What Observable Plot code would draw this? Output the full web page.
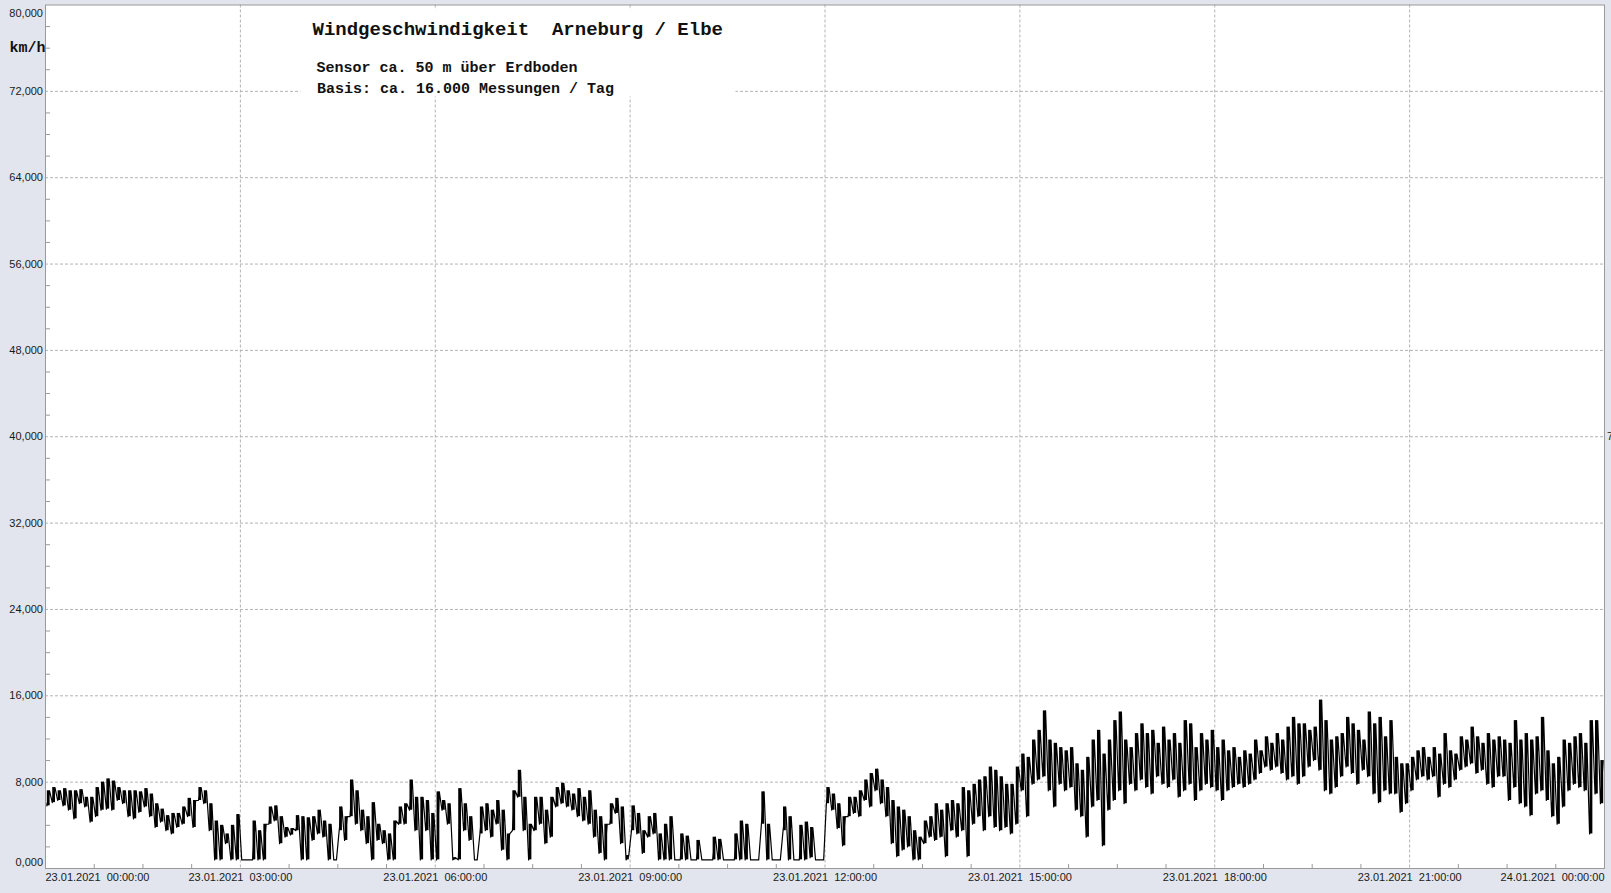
<!DOCTYPE html>
<html><head><meta charset="utf-8">
<script src="https://cdn.jsdelivr.net/npm/d3@7"></script>
<script src="https://cdn.jsdelivr.net/npm/@observablehq/plot@0.6"></script>
<style>
html,body{margin:0;padding:0;background:#e2e5ed;overflow:hidden}
#chart svg{display:block}
</style></head><body><div id="chart"></div>
<script>
// ---- texts ----
const titleText = "Windgeschwindigkeit\u00a0\u00a0Arneburg / Elbe";
const subtitleLine1 = "Sensor ca. 50 m über Erdboden";
const subtitleLine2 = "Basis: ca. 16.000 Messungen / Tag";
const unitLabel = "km/h";
const rightEdgeLabel = "7";

// ---- axes ----
const xTickHours = [0, 3, 6, 9, 12, 15, 18, 21, 24];
const xTickLabels = [
  "23.01.2021\u00a0\u00a000:00:00", "23.01.2021\u00a0\u00a003:00:00", "23.01.2021\u00a0\u00a006:00:00",
  "23.01.2021\u00a0\u00a009:00:00", "23.01.2021\u00a0\u00a012:00:00", "23.01.2021\u00a0\u00a015:00:00",
  "23.01.2021\u00a0\u00a018:00:00", "23.01.2021\u00a0\u00a021:00:00", "24.01.2021\u00a0\u00a000:00:00"
];
const yTickValues = [0, 8, 16, 24, 32, 40, 48, 56, 64, 72, 80];
const yMinorTicks = d3.range(2, 80, 2).filter(v => v % 8 !== 0);
const xMinorHours = d3.range(0.75, 24, 0.75).filter(h => h % 3 !== 0);

// ---- data: wind speed (km/h), 5-minute bins, min / max per bin, 23.01.2021 ----
const binMinutes = 5;
const windLo = [
  5.8,6.1,6.3,5.8,5.4,4.6,6.0,5.7,4.3,4.8,5.4,5.5,      // 00h
  5.4,6.3,6.0,4.8,4.6,5.2,5.7,4.8,3.8,4.3,3.5,3.2,      // 01h
  3.8,4.1,4.8,3.8,6.3,6.0,3.5,0.8,0.8,2.3,0.8,0.8,      // 02h
  0.8,0.8,0.8,0.8,0.8,4.1,4.4,2.3,2.9,3.1,3.5,0.8,      // 03h
  0.8,2.6,3.2,2.9,0.8,0.8,3.5,2.6,4.8,4.1,3.5,2.3,      // 04h
  0.8,2.6,2.3,0.8,0.8,4.1,4.1,5.4,3.5,0.8,3.5,0.8,      // 05h
  0.8,5.4,4.1,0.8,0.8,3.5,2.6,0.8,3.2,3.5,2.9,4.1,      // 06h
  1.7,0.8,3.5,6.6,3.5,0.8,3.5,4.1,2.3,2.9,5.7,6.0,      // 07h
  5.7,5.4,4.8,4.4,4.1,2.9,1.4,0.8,4.1,5.1,2.3,0.8,      // 08h
  3.5,3.2,1.4,2.9,3.2,0.8,0.8,0.8,0.8,0.8,0.8,0.8,      // 09h
  0.8,0.8,0.8,0.8,0.8,0.8,0.8,0.8,0.8,0.8,0.8,0.8,      // 10h
  4.1,0.8,0.8,0.8,3.5,0.8,0.8,0.8,0.8,1.0,0.8,0.8,      // 11h
  6.0,5.4,3.7,2.1,4.8,5.1,4.8,6.3,5.7,7.2,6.0,4.8,      // 12h
  2.3,1.1,1.7,2.0,0.8,0.8,2.3,2.9,2.6,2.9,1.1,3.5,      // 13h
  2.9,3.5,1.1,4.1,4.8,3.5,4.8,3.8,3.5,3.8,3.2,4.1,      // 14h
  7.2,4.8,7.8,8.2,8.5,7.2,5.7,7.8,7.2,7.5,5.4,4.8,      // 15h
  2.9,5.7,6.3,2.1,5.4,6.3,7.2,6.0,7.8,7.2,8.2,7.5,      // 16h
  6.9,8.5,7.8,7.5,8.2,6.6,7.2,7.8,6.3,7.2,7.8,7.5,      // 17h
  7.2,6.3,7.2,7.5,7.8,7.5,7.8,8.2,8.8,9.4,9.1,9.4,      // 18h
  8.8,8.2,8.5,7.8,8.5,9.4,10.0,9.1,7.2,6.9,7.5,8.5,     // 19h
  9.4,8.8,7.8,9.1,8.5,6.9,6.1,7.2,6.9,6.9,5.2,6.0,      // 20h
  7.2,8.2,8.5,8.2,8.5,6.6,7.8,7.5,8.2,9.1,9.4,9.7,      // 21h
  8.8,9.1,7.8,7.5,8.5,8.5,6.3,7.5,6.0,5.7,4.9,6.9,      // 22h
  7.2,6.3,4.8,4.1,5.7,7.2,7.8,7.5,7.2,3.2,6.9,6.0       // 23h
];
const windHi = [
  7.2,7.5,7.2,7.4,7.2,7.2,7.3,6.6,6.6,7.5,8.0,8.3,      // 00h
  8.1,7.5,7.2,7.2,7.2,7.1,7.4,6.9,6.0,5.5,4.9,5.1,      // 01h
  5.1,5.7,6.5,6.3,7.5,7.2,6.0,4.4,4.0,3.2,4.0,5.0,      // 02h
  0.8,0.8,4.4,3.5,4.1,5.7,5.8,4.8,3.8,3.7,4.9,4.8,      // 03h
  4.7,4.8,5.4,4.4,4.1,0.8,5.7,4.8,8.2,7.2,5.4,4.8,      // 04h
  6.1,4.1,3.5,3.2,4.4,5.7,6.0,8.2,6.6,6.6,6.3,5.1,      // 05h
  7.1,6.3,6.0,1.0,7.4,6.0,4.8,0.8,5.7,6.0,5.4,6.3,      // 06h
  5.4,3.2,7.2,9.1,6.6,4.1,6.6,6.6,5.4,6.6,7.5,7.9,      // 07h
  7.2,6.9,7.4,6.6,7.2,5.4,4.8,4.1,6.0,6.5,5.7,1.2,      // 08h
  5.8,5.1,3.5,4.8,5.1,3.2,4.1,4.8,0.8,3.2,3.0,0.8,      // 09h
  2.6,0.8,0.8,2.9,2.7,0.8,0.8,3.2,4.4,4.1,0.8,0.8,      // 10h
  7.1,4.1,0.8,0.8,5.7,4.8,0.8,4.0,4.3,3.8,0.8,0.8,      // 11h
  7.5,6.9,6.0,4.8,6.6,6.6,7.2,8.2,8.8,9.2,8.2,7.5,      // 12h
  6.3,5.7,5.4,4.8,3.5,2.9,4.4,4.8,6.0,5.4,6.0,6.3,      // 13h
  6.0,7.5,7.2,7.8,8.2,8.5,9.4,9.1,8.5,7.8,7.8,9.4,      // 14h
  10.6,10.3,11.9,12.8,14.6,11.9,11.6,11.2,10.9,11.2,9.7,9.1,   // 15h
  10.3,11.9,12.8,10.6,11.9,13.7,14.5,11.9,11.2,12.5,13.4,12.5, // 16h
  12.8,11.6,13.1,11.9,12.5,11.6,13.7,13.4,11.2,12.5,11.9,12.8, // 17h
  11.2,11.9,10.9,11.2,10.3,10.9,10.6,11.9,10.9,12.2,11.6,12.5, // 18h
  11.9,13.1,14.0,13.4,13.4,12.8,13.1,15.6,13.7,11.9,12.2,12.5, // 19h
  14.0,13.4,12.8,11.9,14.5,13.4,14.0,12.2,13.7,10.3,9.7,9.7,   // 20h
  10.3,10.9,11.2,10.3,11.2,10.6,12.5,10.9,10.6,12.2,11.9,13.1, // 21h
  12.2,11.6,12.5,11.9,12.2,11.9,11.6,13.7,11.9,12.5,11.9,12.2, // 22h
  14.0,10.9,9.7,10.3,11.9,11.6,12.2,12.5,11.6,13.7,13.7,10.0   // 23h
];

// tables for the marks: one row per bin (min-max range), and min then max inside each bin for the trace
const windBins = windLo.map((lo, i) => ({h: (i + 0.5) * binMinutes / 60, lo, hi: windHi[i]}));
const windPoints = windLo.flatMap((lo, i) => [
  {h: (i + 0.25) * binMinutes / 60, v: lo},
  {h: (i + 0.75) * binMinutes / 60, v: windHi[i]}
]);
const xLabelRows = xTickHours.map((h, i) => ({h, label: xTickLabels[i]}));
const fmtY = v => v.toFixed(3).replace(".", ",");

const W = 1611, H = 893;
const mL = 45, mR = 7, mT = 4.5, mB = 25;
const frameW = W - mL - mR, frameH = H - mT - mB;
const gridStyle = {stroke: "#b3b3b3", strokeOpacity: 1, strokeWidth: 1, strokeDasharray: "3,2"};
const labelFont = {fontFamily: "Liberation Sans, Arial, sans-serif", fontSize: 11, fill: "#1a1a1a", lineAnchor: "middle"};
const monoFont = {fontFamily: "Liberation Mono, Courier New, monospace", fontWeight: "bold", fill: "#111", lineAnchor: "middle"};

const chart = Plot.plot({
  width: W, height: H,
  marginLeft: mL, marginRight: mR, marginTop: mT, marginBottom: mB,
  style: {background: "transparent", overflow: "visible"},
  x: {domain: [0, 24], axis: null},
  y: {domain: [0, 80], axis: null},
  marks: [
    Plot.frame({fill: "white", stroke: null}),
    Plot.gridY(yTickValues.filter(v => v > 0 && v < 80), gridStyle),
    Plot.gridX(xTickHours.filter(h => h > 0 && h < 24), gridStyle),
    // white box behind the heading
    Plot.frame({fill: "white", stroke: null, insetLeft: 255, insetRight: frameW - 690, insetTop: 4.5, insetBottom: frameH - 91.5}),
    // minor ticks (inside the frame)
    Plot.ruleY(yMinorTicks, {stroke: "#9a9a9a", insetRight: frameW - 5}),
    Plot.ruleX(xMinorHours, {stroke: "#9a9a9a", insetTop: frameH - 4}),
    // data: per-bin range plus trace
    Plot.ruleX(windBins, {x: "h", y1: "lo", y2: "hi", stroke: "#000", strokeWidth: 2.8}),
    Plot.line(windPoints, {x: "h", y: "v", stroke: "#000", strokeWidth: 1.2}),
    Plot.frame({stroke: "#9a9a9a"}),
    // y labels
    Plot.text(yTickValues.filter(v => v > 0 && v < 80), {y: d => d, text: fmtY, frameAnchor: "left", textAnchor: "end", dx: -2.5, ...labelFont}),
    Plot.text([80], {y: d => d, text: fmtY, frameAnchor: "left", textAnchor: "end", dx: -2.5, dy: 8.5, ...labelFont}),
    Plot.text([0], {y: d => d, text: fmtY, frameAnchor: "left", textAnchor: "end", dx: -2.5, dy: -6, ...labelFont}),
    // x labels
    Plot.text(xLabelRows.slice(1, -1), {x: "h", text: "label", frameAnchor: "bottom", dy: 9, ...labelFont}),
    Plot.text(xLabelRows.slice(0, 1), {x: "h", text: "label", frameAnchor: "bottom", dy: 9, textAnchor: "start", ...labelFont}),
    Plot.text(xLabelRows.slice(-1), {x: "h", text: "label", frameAnchor: "bottom", dy: 9, textAnchor: "end", ...labelFont}),
    // heading texts
    Plot.text([titleText], {text: d => d, frameAnchor: "top-left", textAnchor: "start", dx: 267, dy: 24.4, fontSize: 19, ...monoFont}),
    Plot.text([subtitleLine1], {text: d => d, frameAnchor: "top-left", textAnchor: "start", dx: 271, dy: 61.7, fontSize: 15, ...monoFont}),
    Plot.text([subtitleLine2], {text: d => d, frameAnchor: "top-left", textAnchor: "start", dx: 271.5, dy: 83.2, fontSize: 15, ...monoFont}),
    Plot.text([unitLabel], {text: d => d, frameAnchor: "top-left", textAnchor: "start", dx: -36, dy: 41.7, fontSize: 15, ...monoFont}),
    Plot.text([rightEdgeLabel], {text: d => d, frameAnchor: "right", textAnchor: "start", dx: 2.5, ...labelFont})
  ]
});
document.getElementById("chart").appendChild(chart);
</script></body></html>
